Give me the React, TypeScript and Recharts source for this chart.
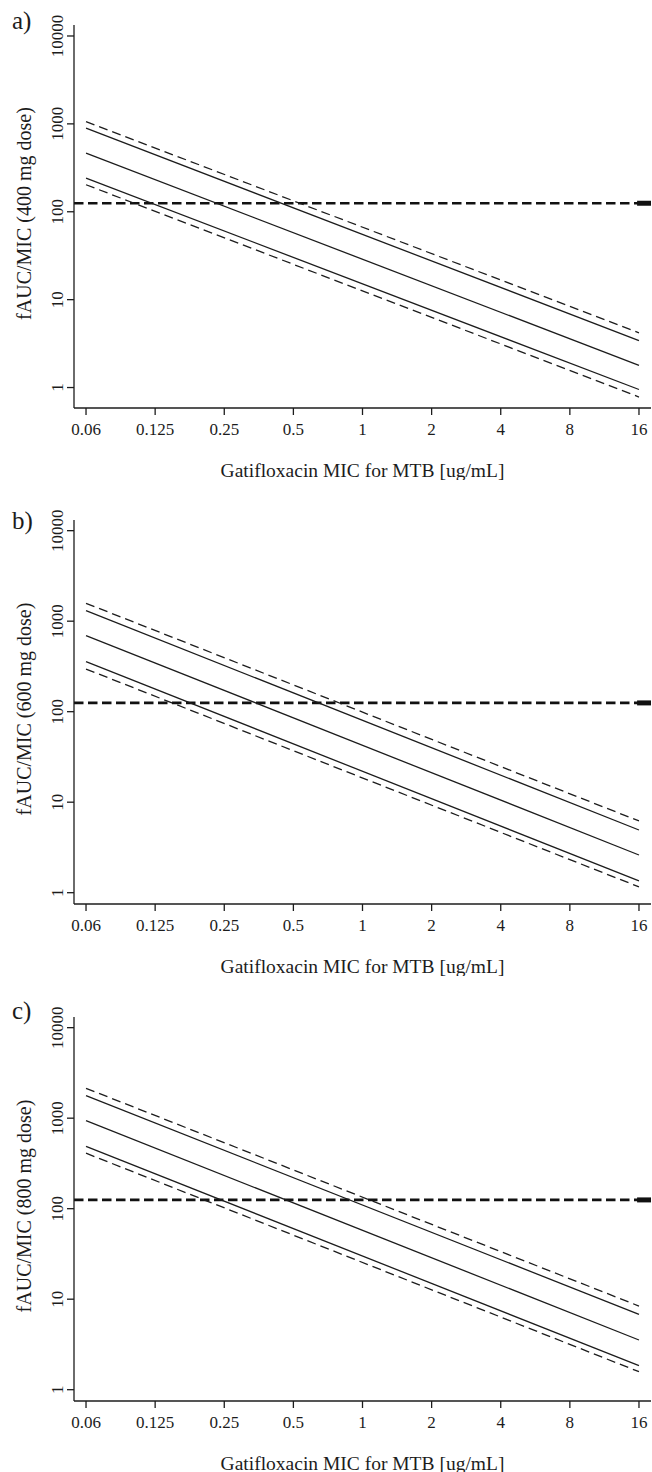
import { LineChart, Line, XAxis, YAxis, ReferenceLine } from 'recharts';

const FONT = '"Liberation Serif", "Times New Roman", Times, serif';
const INK = '#1c1c1c';

// x axis (MIC, log2 steps)
const micTicks = [0.0625, 0.125, 0.25, 0.5, 1, 2, 4, 8, 16];
const micTickLabels = ['0.06', '0.125', '0.25', '0.5', '1', '2', '4', '8', '16'];
const ratioTicks = [1, 10, 100, 1000, 10000];
const xTitle = 'Gatifloxacin MIC for MTB [ug/mL]';

// every line is read at its two ends, MIC 0.06 and 16
const lineMic = [0.0625, 16];
const targetRatio = 125;
const targetMarkMic = [15.7, 18.05];

// 400 mg dose
const a_hi95 = [1062, 4.19];
const a_hi = [893, 3.42];
const a_mid = [464, 1.79];
const a_lo = [241, 0.95];
const a_lo95 = [203, 0.78];

// 600 mg dose
const b_hi95 = [1577, 6.2];
const b_hi = [1306, 4.93];
const b_mid = [692, 2.61];
const b_lo = [357, 1.35];
const b_lo95 = [296, 1.16];

// 800 mg dose
const c_hi95 = [2140, 8.4];
const c_hi = [1774, 6.8];
const c_mid = [938, 3.54];
const c_lo = [489, 1.84];
const c_lo95 = [410, 1.58];

const makeRows = (hi95: number[], hi: number[], mid: number[], lo: number[], lo95: number[]) =>
  lineMic.map((mic, i) => ({ mic, hi95: hi95[i], hi: hi[i], mid: mid[i], lo: lo[i], lo95: lo95[i] }));

const panels = [
  { letter: 'a)', dose: 400, rows: makeRows(a_hi95, a_hi, a_mid, a_lo, a_lo95), plotTop: 25, plotH: 383, yDomain: [0.585, 13335], letterY: 28.8 },
  { letter: 'b)', dose: 600, rows: makeRows(b_hi95, b_hi, b_mid, b_lo, b_lo95), plotTop: 520, plotH: 384, yDomain: [0.75, 13120], letterY: 528.8 },
  { letter: 'c)', dose: 800, rows: makeRows(c_hi95, c_hi, c_mid, c_lo, c_lo95), plotTop: 1017, plotH: 384, yDomain: [0.75, 13120], letterY: 1019 },
];

const X_DOMAIN = [0.0554, 18.05];
const W = 652;
const TOP_PAD = 25;
const X_AXIS_H = 72;

function YTick(props: any) {
  const { x, y, payload } = props;
  return (
    <text x={x} y={y} transform={`rotate(-90 ${x} ${y})`} textAnchor="middle"
      fontSize={17} fontFamily={FONT} fill={INK}>
      {payload.value}
    </text>
  );
}

function Panel({ p }: { p: any }) {
  const chartTop = p.plotTop - TOP_PAD;
  const h = TOP_PAD + p.plotH + X_AXIS_H;
  const axisY = TOP_PAD + p.plotH;
  const yMid = TOP_PAD + p.plotH / 2 - 3;
  return (
    <div style={{ position: 'absolute', left: 0, top: chartTop, width: W, height: h }}>
      <LineChart width={W} height={h} data={p.rows} margin={{ top: TOP_PAD, right: 1, left: 0, bottom: 0 }}>
        <XAxis dataKey="mic" type="number" scale="log" domain={X_DOMAIN} allowDataOverflow
          ticks={micTicks} interval={0} tickFormatter={(v: number) => micTickLabels[micTicks.indexOf(v)]}
          height={X_AXIS_H} tickSize={7} tickMargin={8}
          stroke={INK} strokeWidth={1.3} tickLine={{ stroke: INK, strokeWidth: 1.3 }}
          tick={{ fontSize: 17, fontFamily: FONT, fill: INK }} />
        <YAxis type="number" scale="log" domain={p.yDomain} allowDataOverflow
          ticks={ratioTicks} interval={0} width={74} tickSize={7} tickMargin={4}
          stroke={INK} strokeWidth={1.3} tickLine={{ stroke: INK, strokeWidth: 1.3 }}
          tick={<YTick />} />
        <ReferenceLine y={targetRatio} stroke="#111" strokeWidth={2.6} strokeDasharray="9.5 4.5" />
        <ReferenceLine segment={[{ x: targetMarkMic[0], y: targetRatio }, { x: targetMarkMic[1], y: targetRatio }]}
          stroke="#111" strokeWidth={5} ifOverflow="visible" />
        <Line dataKey="hi95" type="linear" stroke={INK} strokeWidth={1.3} strokeDasharray="9 5" dot={false} isAnimationActive={false} />
        <Line dataKey="hi" type="linear" stroke={INK} strokeWidth={1.3} dot={false} isAnimationActive={false} />
        <Line dataKey="mid" type="linear" stroke={INK} strokeWidth={1.3} dot={false} isAnimationActive={false} />
        <Line dataKey="lo" type="linear" stroke={INK} strokeWidth={1.3} dot={false} isAnimationActive={false} />
        <Line dataKey="lo95" type="linear" stroke={INK} strokeWidth={1.3} strokeDasharray="9 5" dot={false} isAnimationActive={false} />
        <text x={12} y={p.letterY - chartTop} fontSize={25} fontFamily={FONT} fill={INK}>{p.letter}</text>
        <text x={24} y={yMid} transform={`rotate(-90 24 ${yMid})`} textAnchor="middle" dominantBaseline="central"
          fontSize={20} fontFamily={FONT} fill={INK}>{`fAUC/MIC (${p.dose} mg dose)`}</text>
        <text x={362.5} y={axisY + 68.5} textAnchor="middle" fontSize={19.5} fontFamily={FONT} fill={INK}>{xTitle}</text>
      </LineChart>
    </div>
  );
}

export default function App() {
  return (
    <div style={{ position: 'absolute', left: 0, top: 0, width: W, height: 1472, overflow: 'hidden', background: '#fff' }}>
      {panels.map((p) => <Panel key={p.letter} p={p} />)}
    </div>
  );
}
